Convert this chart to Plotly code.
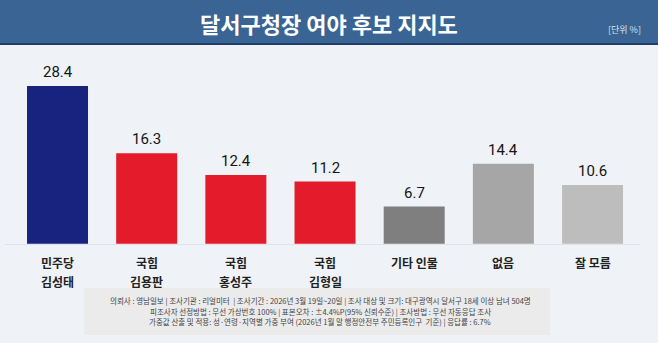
import plotly.graph_objects as go

# ---- data ----
party = ["민주당", "국힘", "국힘", "국힘", "기타 인물", "없음", "잘 모름"]
names = ["김성태", "김용판", "홍성주", "김형일", "", "", ""]
values = [28.4, 16.3, 12.4, 11.2, 6.7, 14.4, 10.6]
colors = ["#18237f", "#e31b2b", "#e31b2b", "#e31b2b", "#7f7f7f", "#a6a6a6", "#bdbdbd"]
categories = [f"c{i}" for i in range(len(values))]

title = "달서구청장 여야 후보 지지도"
unit = "[단위 %]"
notes = [
    "의뢰사 : 영남일보 | 조사기관 : 리얼미터  | 조사기간 : 2026년 3월 19일~20일 | 조사 대상 및 크기: 대구광역시 달서구 18세 이상 남녀 504명",
    "피조사자 선정방법 : 무선 가상번호 100% | 표본오차 : ±4.4%P(95% 신뢰수준) | 조사방법 : 무선 자동응답 조사",
    "가중값 산출 및 적용: 성·연령·지역별 가중 부여 (2026년 1월 말 행정안전부 주민등록인구  기준) | 응답률 : 6.7%",
]

W, H = 658, 343
KR = "Noto Sans CJK KR"

def py(pix):
    return 1 - pix / H

fig = go.Figure()
fig.add_trace(go.Bar(
    x=categories, y=values, marker=dict(color=colors, line=dict(width=0)),
    width=0.684, hoverinfo="skip",
))

annotations = []
for c, v in zip(categories, values):
    annotations.append(dict(x=c, y=v, xref="x", yref="y", text=f"{v}", showarrow=False,
                            yanchor="middle", yshift=14,
                            font=dict(family="Roboto, " + KR, size=15, color="#151515")))
for c, p, n in zip(categories, party, names):
    annotations.append(dict(x=c, y=py(262), xref="x", yref="paper", text=f"<b>{p}</b>", showarrow=False,
                            yanchor="middle", font=dict(family=KR, size=12, color="#222222")))
    if n:
        annotations.append(dict(x=c, y=py(281), xref="x", yref="paper", text=f"<b>{n}</b>", showarrow=False,
                                yanchor="middle", font=dict(family=KR, size=12, color="#222222")))

annotations.append(dict(x=329 / W, y=py(23), xref="paper", yref="paper", text=f"<b>{title}</b>",
                        showarrow=False, yanchor="middle", xanchor="center",
                        font=dict(family=KR, size=22, color="#ffffff")))
annotations.append(dict(x=643 / W, y=py(30), xref="paper", yref="paper", text=unit,
                        showarrow=False, yanchor="middle", xanchor="right",
                        font=dict(family=KR, size=9, color="#d8e0ec")))
for i, t in enumerate(notes):
    annotations.append(dict(x=320 / W, y=py(300.5 + 10.5 * i), xref="paper", yref="paper", text=t,
                            showarrow=False, yanchor="middle", xanchor="center",
                            font=dict(family=KR, size=7.5, color="#444444")))

shapes = [
    dict(type="rect", xref="paper", yref="paper", x0=0, x1=1, y0=py(43), y1=1,
         fillcolor="#3a6493", line=dict(width=0), layer="below"),
    dict(type="line", xref="paper", yref="paper", x0=0, x1=1, y0=py(44), y1=py(44),
         line=dict(color="#1f3d66", width=2)),
    dict(type="line", xref="paper", yref="paper", x0=5 / W, x1=640 / W, y0=py(244.5), y1=py(244.5),
         line=dict(color="#dfe2e8", width=1), layer="below"),
    dict(type="rect", xref="paper", yref="paper", x0=84 / W, x1=550 / W, y0=py(335), y1=py(288),
         fillcolor="#ebebec", line=dict(width=0), layer="below"),
]

fig.update_layout(
    width=W, height=H, margin=dict(l=0, r=0, t=0, b=0),
    paper_bgcolor="#eff2f7", plot_bgcolor="rgba(0,0,0,0)",
    showlegend=False, annotations=annotations, shapes=shapes,
    xaxis=dict(range=[-0.645, 6.734], showticklabels=False, showgrid=False, zeroline=False,
               fixedrange=True),
    yaxis=dict(range=[-17.89, 43.91], showticklabels=False, showgrid=False, zeroline=False,
               fixedrange=True),
)

fig.write_html("out.html")
